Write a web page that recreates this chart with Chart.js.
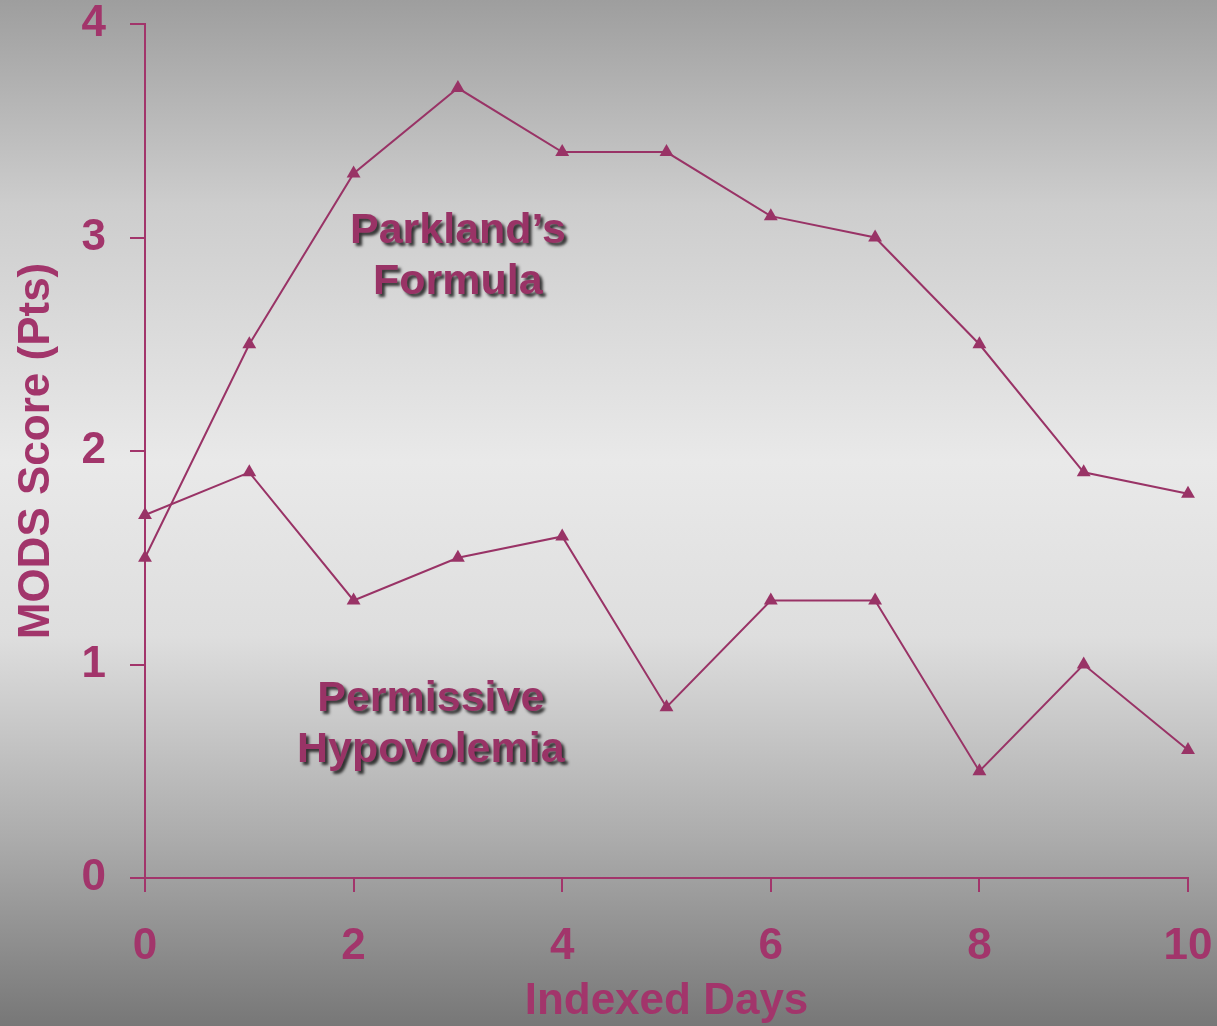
<!DOCTYPE html>
<html>
<head>
<meta charset="utf-8">
<script src="https://cdn.jsdelivr.net/npm/chart.js@4/dist/chart.umd.min.js"></script>
<style>
  html, body { margin: 0; padding: 0; }
  body {
    width: 1217px; height: 1026px; overflow: hidden;
    background: linear-gradient(to bottom, #9e9e9e 0%, #cdcdcd 20%, #e9e9e9 45%, #dedede 62%, #ababab 82%, #777777 100%);
  }
  #wrap { position: relative; width: 1217px; height: 1026px; }
</style>
</head>
<body>
<div id="wrap"><canvas id="modsChart"></canvas></div>
<script>
const days = [0, 1, 2, 3, 4, 5, 6, 7, 8, 9, 10];
const parkland = [1.5, 2.5, 3.3, 3.7, 3.4, 3.4, 3.1, 3.0, 2.5, 1.9, 1.8];
const permissive = [1.7, 1.9, 1.3, 1.5, 1.6, 0.8, 1.3, 1.3, 0.5, 1.0, 0.6];
const xTicks = [0, 2, 4, 6, 8, 10];
const yTicks = [0, 1, 2, 3, 4];
const labels = [
  { lines: ['Parkland\u2019s', 'Formula'], x: 3.0, y: 3.03 },
  { lines: ['Permissive', 'Hypovolemia'], x: 2.74, y: 0.84 }
];

const lineColor = '#993366';
const axisColor = '#a2356b';
const fontFamily = '"Liberation Sans", Arial, sans-serif';

const seriesLabels = {
  id: 'seriesLabels',
  afterDatasetsDraw(chart) {
    const { ctx, scales } = chart;
    ctx.save();
    ctx.font = 'bold 43px ' + fontFamily;
    ctx.textAlign = 'center';
    ctx.textBaseline = 'middle';
    ctx.fillStyle = lineColor;
    ctx.shadowColor = 'rgba(0,0,0,0.75)';
    ctx.shadowOffsetX = 3;
    ctx.shadowOffsetY = 3;
    ctx.shadowBlur = 3;
    labels.forEach(l => {
      const px = scales.x.getPixelForValue(l.x);
      const py = scales.y.getPixelForValue(l.y);
      l.lines.forEach((t, i) => ctx.fillText(t, px, py + i * 51));
    });
    ctx.restore();
  }
};

const toPoints = vals => days.map((d, i) => ({ x: d, y: vals[i] }));

const ds = (label, vals) => ({
  label,
  data: toPoints(vals),
  borderColor: lineColor,
  backgroundColor: lineColor,
  borderWidth: 2,
  pointStyle: 'triangle',
  pointRadius: 8,
  pointBorderWidth: 0,
  pointBackgroundColor: lineColor,
  tension: 0,
  clip: false
});

new Chart(document.getElementById('modsChart'), {
  type: 'line',
  data: {
    datasets: [ds('Parkland\u2019s Formula', parkland), ds('Permissive Hypovolemia', permissive)]
  },
  options: {
    responsive: true,
    maintainAspectRatio: false,
    animation: false,
    layout: { padding: 0 },
    plugins: { legend: { display: false }, tooltip: { enabled: false } },
    scales: {
      x: {
        type: 'linear',
        min: 0, max: 10,
        afterFit: s => { s.height = 148; s.paddingRight = 29; },
        afterBuildTicks: s => { s.ticks = xTicks.map(v => ({ value: v })); },
        grid: { drawOnChartArea: false, drawTicks: true, tickLength: 14, color: axisColor, lineWidth: 2 },
        border: { display: true, color: axisColor, width: 2 },
        ticks: { color: axisColor, padding: 28, font: { family: fontFamily, size: 44, weight: 'bold' } },
        title: { display: true, text: 'Indexed Days', color: axisColor, padding: { top: 0, bottom: -2 }, font: { family: fontFamily, size: 44, weight: 'bold', lineHeight: 1.2 } }
      },
      y: {
        type: 'linear',
        min: 0, max: 4,
        afterFit: s => { s.width = 145; s.paddingTop = 24; },
        afterBuildTicks: s => { s.ticks = yTicks.map(v => ({ value: v })); },
        grid: { drawOnChartArea: false, drawTicks: true, tickLength: 15, color: axisColor, lineWidth: 2 },
        border: { display: true, color: axisColor, width: 2 },
        ticks: { color: axisColor, padding: 24, font: { family: fontFamily, size: 44, weight: 'bold' } },
        title: { display: true, text: 'MODS Score (Pts)', color: axisColor, padding: { top: 10, bottom: 0 }, font: { family: fontFamily, size: 44, weight: 'bold', lineHeight: 1.2 } }
      }
    }
  },
  plugins: [seriesLabels]
});
</script>
</body>
</html>
